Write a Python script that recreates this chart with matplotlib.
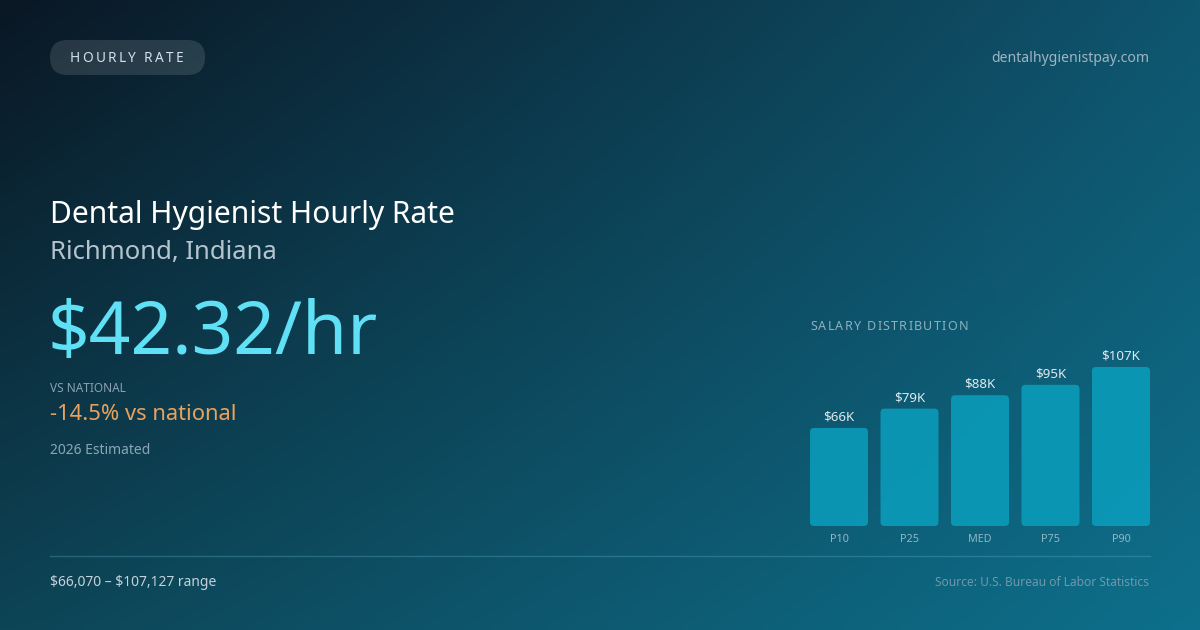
import numpy as np
import matplotlib.pyplot as plt
from matplotlib.patches import FancyBboxPatch
from matplotlib.colors import to_rgb

plt.rcParams['font.family'] = ['Noto Sans', 'DejaVu Sans']

# data
categories = ["P10", "P25", "MED", "P75", "P90"]
salaries_k = [66, 79, 88, 95, 107]
bar_labels = ["$66K", "$79K", "$88K", "$95K", "$107K"]

title = "Dental Hygienist Hourly Rate"
location = "Richmond, Indiana"
hourly = "$42.32/hr"
vs_national = "-14.5% vs national"
range_text = "\\$66,070 – \\$107,127 range"

W, H = 1200, 630
fig = plt.figure(figsize=(12, 6.3), dpi=100)
renderer = fig.canvas.get_renderer()

# background gradient (4 corner bilinear blend)
bg = fig.add_axes([0, 0, 1, 1])
bg.set_axis_off()
tl, tr = np.array(to_rgb("#0a1724")), np.array(to_rgb("#0f556e"))
bl, br = np.array(to_rgb("#0d4456")), np.array(to_rgb("#0e708c"))
u = np.linspace(0, 1, 300)[None, :, None]
v = np.linspace(0, 1, 160)[:, None, None]
img = (1 - v) * ((1 - u) * tl + u * tr) + v * ((1 - u) * bl + u * br)
bg.imshow(img, extent=[0, W, H, 0], aspect="auto", interpolation="bilinear")
bg.set_xlim(0, W)
bg.set_ylim(H, 0)


def spaced_text(x, y, s, width, **kw):
    # draw characters one by one so the word spans the given width
    parts = [bg.text(0, y, ch, ha="left", va="center", **kw) for ch in s]
    ws = [p.get_window_extent(renderer).width if ch != " " else 0 for p, ch in zip(parts, s)]
    space_w = bg.text(0, y, "a a", **kw)
    sw = space_w.get_window_extent(renderer).width
    space_w.remove()
    aw = bg.text(0, y, "aa", **kw)
    sw -= aw.get_window_extent(renderer).width
    aw.remove()
    ws = [w if ch != " " else sw for w, ch in zip(ws, s)]
    gap = (width - sum(ws)) / (len(s) - 1)
    for p, w in zip(parts, ws):
        p.set_x(x)
        x += w + gap


# pill
pill = FancyBboxPatch((50, 40), 155, 35,
                      boxstyle="round,pad=0,rounding_size=17.5",
                      fc="#ffffff", alpha=0.12, ec="none")
bg.add_patch(pill)
spaced_text(70, 58, "HOURLY RATE", 113, color="#d6e2ea", fontsize=9.8)
bg.text(1149, 59, "dentalhygienistpay.com", color="#9fb5c2", fontsize=10.1,
        ha="right", va="center")

bg.text(50, 215, title, color="white", fontsize=21.6, va="center", ha="left")
bg.text(50, 252, location, color="#b4c4cf", fontsize=18.5, va="center", ha="left")
bg.text(47, 335, hourly, color="#5fe0f5", fontsize=52.5, va="center", ha="left")
bg.text(50, 389, "VS NATIONAL", color="#8aa2b2", fontsize=8.5, va="center", ha="left")
bg.text(50, 415, vs_national, color="#e8a25e", fontsize=15.8, va="center", ha="left")
bg.text(50, 451, "2026 Estimated", color="#8aa6b5", fontsize=10, va="center", ha="left")

spaced_text(810, 326, "SALARY DISTRIBUTION", 158, color="#8fb0c0", fontsize=9)

bg.plot([50, 1150], [556, 556], color="#5aaac4", alpha=0.35, lw=1)
bg.text(50, 582, range_text, color="#c4d2da", fontsize=10, va="center", ha="left")
bg.text(1149, 582, "Source: U.S. Bureau of Labor Statistics", color="#6f98ab",
        fontsize=8.6, va="center", ha="right")

# bar chart axes, pixel-aligned
px_per_unit = 70.5
x0, x1 = 810, 1150
y_bottom, y_top = 526, 356
ax = fig.add_axes([x0 / W, (H - y_bottom) / H, (x1 - x0) / W, (y_bottom - y_top) / H])
ax.set_axis_off()
ax.patch.set_alpha(0)
xpos = np.arange(len(categories))
ax.set_xlim(-29 / px_per_unit, 4 + 29 / px_per_unit)
ax.set_ylim(0, (y_bottom - y_top) / 1.486)
bars = ax.bar(xpos, salaries_k, width=58 / px_per_unit)
xunit = 1 / px_per_unit
yunit = 1 / 1.486
for b, lab, cat in zip(bars, bar_labels, categories):
    b.set_visible(False)
    r = 4
    p = FancyBboxPatch((b.get_x(), b.get_y()), b.get_width(), b.get_height(),
                       boxstyle=f"round,pad=0,rounding_size={r * xunit}",
                       mutation_aspect=yunit / xunit,
                       fc="#0a9fbd", alpha=0.85, ec="none")
    ax.add_patch(p)
    cx = b.get_x() + b.get_width() / 2
    ax.text(cx, b.get_height() + 11 * yunit, lab, color="#dfe9ef", fontsize=9.6,
            ha="center", va="center")
    ax.text(cx, -14 * yunit, cat, color="#8fb8c8", fontsize=7.8,
            ha="center", va="center", clip_on=False)

fig.savefig("out.png", dpi=100)
